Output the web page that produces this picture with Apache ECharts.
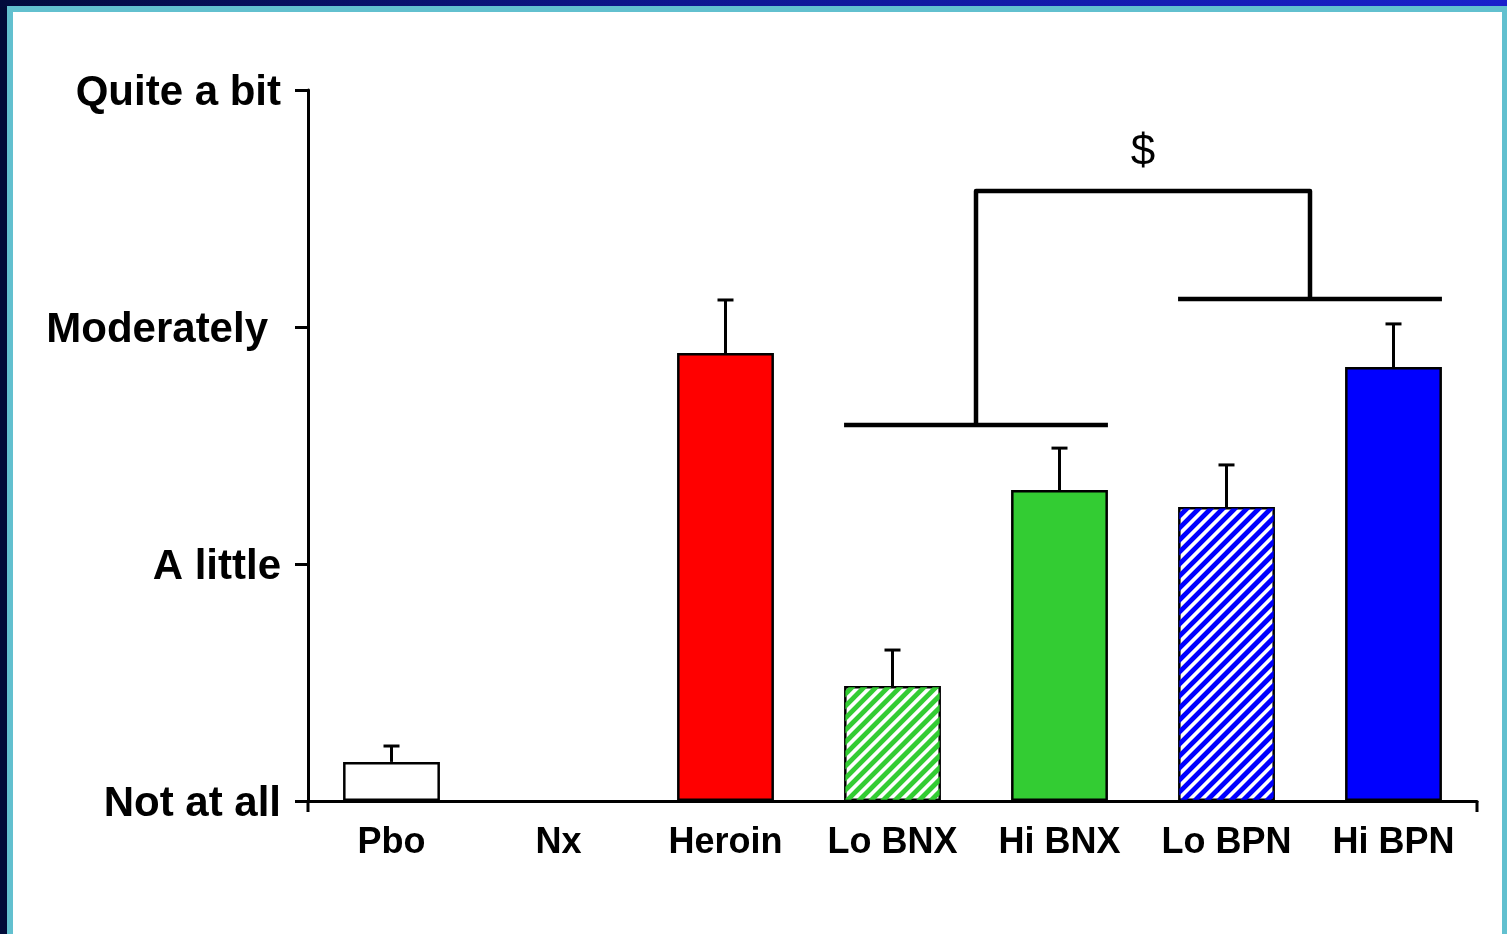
<!DOCTYPE html>
<html>
<head>
<meta charset="utf-8">
<script src="https://cdn.jsdelivr.net/npm/echarts@6/dist/echarts.min.js"></script>
<style>
  html, body { margin: 0; padding: 0; width: 1507px; height: 934px; overflow: hidden; }
  #bg { position: absolute; left: 0; top: 0; width: 1507px; height: 934px; background: #010b38; }
  #band { position: absolute; left: 0; top: 0; width: 1507px; height: 7px; background: linear-gradient(to right, #020b3c, #0e1690 45%, #1a20cc); }
  #cyan { position: absolute; left: 7px; top: 6px; width: 1500px; height: 928px; background: #62c0cf; }
  #white { position: absolute; left: 13px; top: 12px; width: 1489px; height: 922px; background: #ffffff; }
  #chart { position: absolute; left: 0; top: 0; width: 1507px; height: 934px; }
</style>
</head>
<body>
<div id="bg"></div><div id="band"></div><div id="cyan"></div><div id="white"></div>
<div id="chart"></div>
<script>
// ---- data ----
const categories = ['Pbo', 'Nx', 'Heroin', 'Lo BNX', 'Hi BNX', 'Lo BPN', 'Hi BPN'];
const means = [0.165, 0, 1.89, 0.485, 1.312, 1.24, 1.831];
const errorTops = [0.232, null, 2.114, 0.637, 1.489, 1.418, 2.013];
const yTickLabels = ['Not at all', 'A little', 'Moderately', 'Quite a bit'];
// bracket pairs: [first category, second category, level]
const bracketPairs = [[3, 4, 1.586], [5, 6, 2.118]];
// connecting bracket: level of its top bar, and the significance mark level
const topBracketLevel = 2.574;
const sigMark = '$';
const sigMarkLevel = 2.735;

// ---- styles ----
const barFills = ['#ffffff', '#ffffff', '#ff0000', '#ffffff', '#33cc33', '#ffffff', '#0000ff'];
const hatchColors = [null, null, null, '#33cc33', null, '#0000ff', null];
const BAR_FRAC = 0.58;
const HATCH_PERIOD = 12;   // horizontal period of the stripes, px
const HATCH_WIDTH = 6.8;   // horizontal width of a coloured stripe, px

// clip a polygon by the half-plane sign*(x+y - c) <= 0
function clipHalf(poly, c, sign) {
  const out = [];
  for (let i = 0; i < poly.length; i++) {
    const a = poly[i], b = poly[(i + 1) % poly.length];
    const fa = sign * (a[0] + a[1] - c), fb = sign * (b[0] + b[1] - c);
    if (fa <= 0) out.push([a[0], a[1]]);
    if ((fa < 0 && fb > 0) || (fa > 0 && fb < 0)) {
      const t = fa / (fa - fb);
      out.push([a[0] + t * (b[0] - a[0]), a[1] + t * (b[1] - a[1])]);
    }
  }
  return out;
}

const chart = echarts.init(document.getElementById('chart'), null, { renderer: 'canvas' });

const barData = means.map((v, i) => ({ value: v, itemStyle: { color: barFills[i], borderWidth: v === 0 ? 0 : 2.5 } }));
const errData = [];
errorTops.forEach((t, i) => { if (t !== null) errData.push([i, means[i], t]); });
const hatchData = [];
hatchColors.forEach((c, i) => { if (c) hatchData.push([i, means[i]]); });

const option = {
  animation: false,
  backgroundColor: 'transparent',
  grid: { left: 308, right: 30, top: 90, bottom: 133, containLabel: false, outerBoundsMode: 'none' },
  xAxis: {
    type: 'category',
    data: categories,
    boundaryGap: true,
    axisLine: { show: true, lineStyle: { color: '#000', width: 3 } },
    axisTick: { show: false },
    axisLabel: {
      color: '#000', fontFamily: 'Liberation Sans', fontWeight: 'bold', fontSize: 36,
      margin: 24, interval: 0
    },
    splitLine: { show: false }
  },
  yAxis: {
    type: 'value',
    min: 0, max: 3, interval: 1,
    axisLine: { show: true, lineStyle: { color: '#000', width: 3 } },
    axisTick: { show: true, length: 13, lineStyle: { color: '#000', width: 3 } },
    splitLine: { show: false },
    axisLabel: {
      margin: 27,
      formatter: function (v) {
        const t = yTickLabels[Math.round(v)];
        return v === 2 ? '{m|' + t + '}' : '{n|' + t + '}';
      },
      rich: {
        n: { color: '#000', fontFamily: 'Liberation Sans', fontWeight: 'bold', fontSize: 42, padding: [6, 0, 0, 0] },
        m: { color: '#000', fontFamily: 'Liberation Sans', fontWeight: 'bold', fontSize: 42, padding: [6, 13, 0, 0] }
      }
    }
  },
  series: [
    {
      type: 'bar',
      data: barData,
      barWidth: (BAR_FRAC * 100) + '%',
      itemStyle: { borderColor: '#000', borderWidth: 2.5 },
      z: 2
    },
    {
      // diagonal hatching inside the hatched bars
      type: 'custom',
      data: hatchData,
      encode: { x: 0, y: 1 },
      z: 4,
      clip: false,
      renderItem: function (params, api) {
        const idx = Math.round(api.value(0));
        const val = api.value(1);
        const top = api.coord([idx, val]);
        const base = api.coord([idx, 0]);
        const bw = api.size([1, 0])[0] * BAR_FRAC;
        const inset = 1.3;
        const x0 = top[0] - bw / 2 + inset, x1 = top[0] + bw / 2 - inset;
        const y0 = top[1] + inset, y1 = base[1] - inset;
        const rect = [[x0, y0], [x1, y0], [x1, y1], [x0, y1]];
        const color = hatchColors[idx] || '#000';
        const children = [];
        const cMin = x0 + y0, cMax = x1 + y1;
        const start = Math.floor(cMin / HATCH_PERIOD) * HATCH_PERIOD - HATCH_PERIOD;
        for (let c = start; c <= cMax; c += HATCH_PERIOD) {
          let poly = clipHalf(rect, c, -1);          // keep x+y >= c
          if (poly.length < 3) continue;
          poly = clipHalf(poly, c + HATCH_WIDTH, 1); // keep x+y <= c+w
          if (poly.length < 3) continue;
          children.push({ type: 'polygon', shape: { points: poly }, style: { fill: color, stroke: null } });
        }
        return { type: 'group', children: children };
      }
    },
    {
      type: 'custom',
      data: errData,
      z: 5,
      clip: false,
      renderItem: function (params, api) {
        const base = api.coord([api.value(0), api.value(1)]);
        const top = api.coord([api.value(0), api.value(2)]);
        const x = base[0];
        return {
          type: 'group',
          children: [
            { type: 'line', shape: { x1: x, y1: base[1], x2: x, y2: top[1] }, style: { stroke: '#000', lineWidth: 3 } },
            { type: 'line', shape: { x1: x - 8, y1: top[1], x2: x + 8, y2: top[1] }, style: { stroke: '#000', lineWidth: 3 } }
          ]
        };
      }
    },
    {
      type: 'custom',
      data: bracketPairs,
      z: 5,
      clip: false,
      renderItem: function (params, api) {
        const a = api.coord([api.value(0), api.value(2)]);
        const b = api.coord([api.value(1), api.value(2)]);
        const bw = api.size([1, 0])[0] * BAR_FRAC;
        return {
          type: 'line',
          shape: { x1: a[0] - bw / 2, y1: a[1], x2: b[0] + bw / 2, y2: a[1] },
          style: { stroke: '#000', lineWidth: 4.5 }
        };
      }
    },
    {
      type: 'custom',
      data: [[bracketPairs[0][0], bracketPairs[0][1], bracketPairs[1][0], bracketPairs[1][1], bracketPairs[0][2], bracketPairs[1][2], topBracketLevel, sigMarkLevel]],
      z: 5,
      clip: false,
      renderItem: function (params, api) {
        const p0 = api.coord([api.value(0), api.value(4)]);
        const p1 = api.coord([api.value(1), api.value(4)]);
        const p2 = api.coord([api.value(2), api.value(5)]);
        const p3 = api.coord([api.value(3), api.value(5)]);
        const yTop = api.coord([api.value(0), api.value(6)])[1];
        const ySig = api.coord([api.value(0), api.value(7)])[1];
        const lx = (p0[0] + p1[0]) / 2;
        const rx = (p2[0] + p3[0]) / 2;
        return {
          type: 'group',
          children: [
            {
              type: 'polyline',
              shape: { points: [[lx, p0[1]], [lx, yTop], [rx, yTop], [rx, p2[1]]] },
              style: { stroke: '#000', lineWidth: 4.5, fill: null, lineJoin: 'round' }
            },
            {
              type: 'text',
              style: {
                x: (lx + rx) / 2, y: ySig, text: sigMark,
                fill: '#000', font: '44px "Liberation Sans"',
                align: 'center', verticalAlign: 'middle'
              }
            }
          ]
        };
      }
    },
    {
      // small extensions of the axes below the baseline at both ends
      type: 'custom',
      data: [[0, 6]],
      z: 5,
      clip: false,
      renderItem: function (params, api) {
        const a = api.coord([api.value(0), 0]);
        const b = api.coord([api.value(1), 0]);
        const bw = api.size([1, 0])[0];
        const lx = a[0] - bw / 2, rx = b[0] + bw / 2;
        return {
          type: 'group',
          children: [
            { type: 'line', shape: { x1: lx, y1: a[1], x2: lx, y2: a[1] + 11 }, style: { stroke: '#000', lineWidth: 3 } },
            { type: 'line', shape: { x1: rx, y1: a[1], x2: rx, y2: a[1] + 11 }, style: { stroke: '#000', lineWidth: 3 } }
          ]
        };
      }
    }
  ]
};
chart.setOption(option);
</script>
</body>
</html>
